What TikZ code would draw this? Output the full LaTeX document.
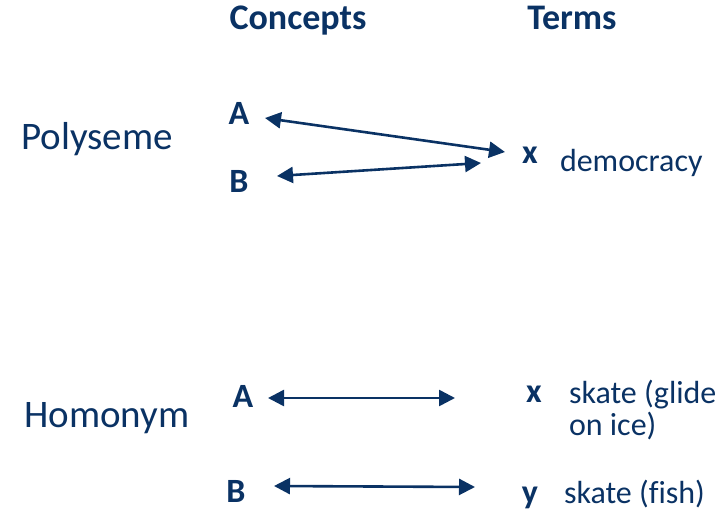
\documentclass[tikz,border=0pt]{standalone}
\usepackage{fontspec}
\setmainfont{Carlito}[Ligatures=CommonOff]
\usetikzlibrary{arrows.meta}
\definecolor{navy}{RGB}{10,50,100}
\begin{document}
\begin{tikzpicture}[x=1pt,y=-1pt,
  every node/.style={text=navy,inner sep=0pt,outer sep=0pt},
  head/.style={font=\fontsize{36}{40}\selectfont\bfseries},
  side/.style={font=\fontsize{39}{44}\selectfont},
  letter/.style={font=\fontsize{34}{38}\selectfont\bfseries},
  word/.style={font=\fontsize{32}{36}\selectfont,anchor=west,align=left},
  link/.style={draw=navy,line width=2.6pt,{Triangle[length=16pt,width=16pt]}-{Triangle[length=16pt,width=16pt]}}]
\useasboundingbox (0,0) rectangle (725,514);
% headers
\node[head] (concepts) at (298,21) {Concepts};
\node[head] (terms) at (572,18) {Terms};
% side labels
\node[side] (poly) at (97,139) {Polyseme};
\node[side] (homo) at (107,418) {Homonym};
% top part
\node[letter] (A1) at (239,113) {A};
\node[letter] (B1) at (239,181) {B};
\node[letter] (x1) at (530,155) {x};
\node[word] (dem) at (560,163) {democracy};
% bottom part
\node[letter] (A2) at (243,396) {A};
\node[letter] (B2) at (236,491) {B};
\node[letter] (x2) at (534,394) {x};
\node[letter] (y2) at (530,498) {y};
\node[word] (sk1) at (569,410) {skate (glide\\[-4pt]on ice)};
\node[word] (sk2) at (564,494) {skate (fish)};
% arrow end points
\coordinate (a1l) at (265,118);
\coordinate (a1r) at (505,152);
\coordinate (b1l) at (277,176);
\coordinate (b1r) at (481,163);
\coordinate (a2l) at (268,398);
\coordinate (a2r) at (455,398);
\coordinate (b2l) at (274,486);
\coordinate (b2r) at (475,487);
\draw[link] (a1l) -- (a1r);
\draw[link] (b1l) -- (b1r);
\draw[link] (a2l) -- (a2r);
\draw[link] (b2l) -- (b2r);
\end{tikzpicture}
\end{document}
